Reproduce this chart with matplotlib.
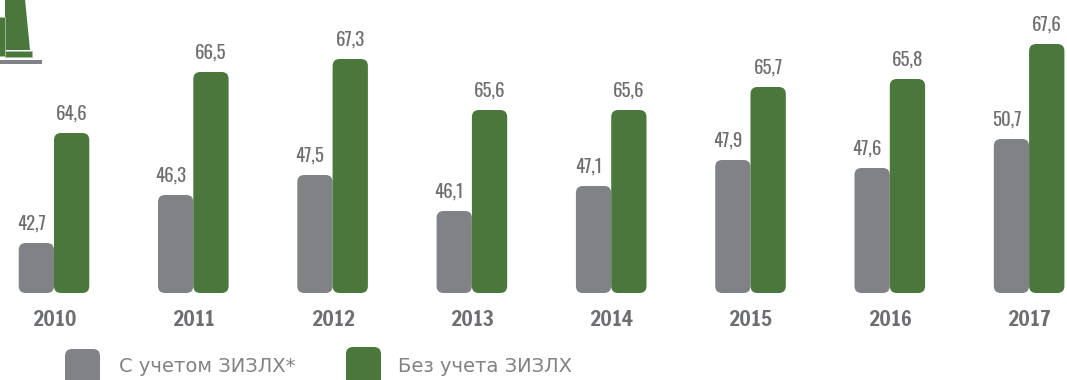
import matplotlib
matplotlib.use("Agg")
import matplotlib.pyplot as plt
from matplotlib.patches import FancyBboxPatch, Polygon

years = ["2010", "2011", "2012", "2013", "2014", "2015", "2016", "2017"]
labels_with = ["42,7", "46,3", "47,5", "46,1", "47,1", "47,9", "47,6", "50,7"]
labels_without = ["64,6", "66,5", "67,3", "65,6", "65,6", "65,7", "65,8", "67,6"]
# drawn bar heights (the source is not to scale)
heights_with = [50, 98, 118, 82, 107, 133, 125, 154]
heights_without = [160, 221, 234, 183, 183, 206, 214, 249]
legend_names = ["С учетом ЗИЗЛХ*", "Без учета ЗИЗЛХ"]

GREY = "#808285"
GREEN = "#4a773c"
TEXT = "#6d6e71"
NARROW = ["Oswald", "DejaVu Sans"]
HEAVY = ["Francois One", "DejaVu Sans"]

W, H = 1067, 380
fig = plt.figure(figsize=(W / 100, H / 100), dpi=100)
fig.patch.set_facecolor("white")

# Axes in pixel-sized units; baseline at y = 0
base = 293
ax = fig.add_axes([0, 0, 1, 1])
ax.set_xlim(0, W)
ax.set_ylim(-(H - base), base)
ax.axis("off")

x0, step, bw = 54, 139.3, 35.3


def rbar(x, w, y, h, color):
    ax.add_patch(FancyBboxPatch((x, y), w, h, boxstyle="round,pad=0,rounding_size=7",
                                facecolor=color, edgecolor="none", clip_on=True))


for i, year in enumerate(years):
    c = x0 + step * i
    rbar(c - bw, bw, 0, heights_with[i], GREY)
    rbar(c, bw, 0, heights_without[i], GREEN)
    ax.annotate(labels_with[i], (c - bw / 2, heights_with[i]), xytext=(-3.6, 13.8),
                textcoords="offset points", ha="center", va="center",
                family=NARROW, fontsize=13.6, color=TEXT)
    ax.annotate(labels_without[i], (c + bw / 2, heights_without[i]), xytext=(0, 13.8),
                textcoords="offset points", ha="center", va="center",
                family=NARROW, fontsize=13.6, color=TEXT)
    ax.text(c, -27, year, ha="center", va="center", family=HEAVY, fontweight="bold",
            fontsize=15.5, color=TEXT)

# Legend
for lx, tx, name, col, top in [(65, 119, legend_names[0], GREY, 349), (346, 398, legend_names[1], GREEN, 347)]:
    rbar(lx, 35, base - top - 50, 50, col)
    ax.text(tx, base - 367, name, ha="left", va="center", family="DejaVu Sans", fontsize=14.0, color=GREY)

# Tower icon, cut off at the top-left corner
pix = lambda x, y: (x, base - y)
edge = "#a9bda3"
ax.add_patch(Polygon([pix(5, -1), pix(25, -1), pix(30, 50), pix(5, 50)], facecolor=GREEN, edgecolor="none"))
ax.add_patch(Polygon([pix(-1, 17), pix(4.5, 17), pix(4.5, 56), pix(-1, 56)], facecolor=GREEN, edgecolor=edge, lw=0.6))
ax.add_patch(Polygon([pix(5, 51), pix(32, 51), pix(32, 56.5), pix(5, 56.5)], facecolor=GREEN, edgecolor=edge, lw=0.6))
ax.add_patch(Polygon([pix(-1, 60), pix(42, 60), pix(42, 64), pix(-1, 64)], facecolor=GREY, edgecolor="none"))

fig.savefig("out.png", dpi=100)
